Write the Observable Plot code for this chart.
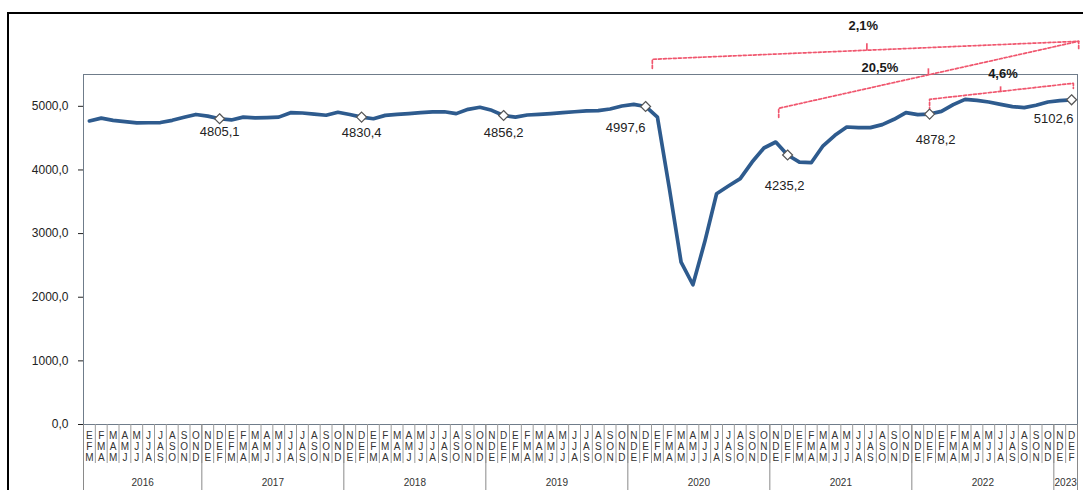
<!DOCTYPE html>
<html><head><meta charset="utf-8">
<script src="https://cdn.jsdelivr.net/npm/d3@7"></script>
<script src="https://cdn.jsdelivr.net/npm/@observablehq/plot@0.6"></script>
<style>
html,body{margin:0;padding:0;background:#fff;overflow:hidden;}
#wrap{position:relative;width:1083px;height:490px;}
#chart{position:absolute;left:0;top:0;}
#border{position:absolute;left:7px;top:12px;width:1090px;height:500px;border:2px solid #000;box-sizing:border-box;pointer-events:none;}
</style></head><body>
<div id="wrap"><div id="chart"></div><div id="border"></div></div>
<script>
// Rolling quarters (Spanish month initials), EFM 2016 ... DEF 2023
const quarters = [
  "EFM","FMA","MAM","AMJ","MJJ","JJA","JAS","ASO","SON","OND",
  "NDE","DEF","EFM","FMA","MAM","AMJ","MJJ","JJA","JAS","ASO","SON","OND",
  "NDE","DEF","EFM","FMA","MAM","AMJ","MJJ","JJA","JAS","ASO","SON","OND",
  "NDE","DEF","EFM","FMA","MAM","AMJ","MJJ","JJA","JAS","ASO","SON","OND",
  "NDE","DEF","EFM","FMA","MAM","AMJ","MJJ","JJA","JAS","ASO","SON","OND",
  "NDE","DEF","EFM","FMA","MAM","AMJ","MJJ","JJA","JAS","ASO","SON","OND",
  "NDE","DEF","EFM","FMA","MAM","AMJ","MJJ","JJA","JAS","ASO","SON","OND",
  "NDE","DEF"
];
const years = ["2016","2017","2018","2019","2020","2021","2022","2023"];
const values = [
  4770, 4815, 4780, 4760, 4740, 4742, 4745, 4780, 4828, 4872,
  4845, 4805.1, 4786, 4830, 4818, 4822, 4830, 4900, 4895, 4876, 4860, 4906,
  4872, 4830.4, 4805, 4858, 4874, 4885, 4900, 4914, 4915, 4885, 4953, 4985,
  4937, 4856.2, 4830, 4864, 4874, 4885, 4900, 4915, 4927, 4932, 4958, 5005,
  5031, 4997.6, 4830, 3720, 2552, 2196, 2870, 3627, 3747, 3863, 4124, 4345,
  4439, 4235.2, 4124, 4114, 4380, 4544, 4675, 4665, 4665, 4712, 4796, 4901,
  4869, 4878.2, 4921, 5026, 5110, 5094, 5068, 5031, 4995, 4979, 5016, 5068,
  5089, 5102.6
];
const yTicks = [0, 1000, 2000, 3000, 4000, 5000];
const markedIdx = [11, 23, 35, 47, 59, 71, 83];
const comparisons = [
  {label: "2,1%", from: 47, to: 83},
  {label: "20,5%", from: 59, to: 83},
  {label: "4,6%", from: 71, to: 83}
];

// ---- layout / styling (not data) ----
const labelOffsets = {11:[0,13], 23:[0,16], 35:[0,17], 47:[-20,21], 59:[-3,31], 71:[6,26], 83:[-18,19]};
const bracketLayout = {
  "2,1%":  {lx: 0.57, lb: 5597, lt: 5739, rx: 0.6, rt: 6022, rb: 5881, mx: 65.7, mb: 5881, mt: 5991, tx: 65.4, ty: 6258},
  "20,5%": {lx: -0.75, lb: 4827, lt: 4969, rx: 0.6, rt: 6022, rb: 6022, mx: 70.9, mb: 5495, mt: 5597, tx: 66.8, ty: 5597},
  "4,6%":  {lx: 0.0, lb: 4937, lt: 5110, rx: 0.15, rt: 5362, rb: 5283, mx: 77.0, mb: 5236, mt: 5314, tx: 77.2, ty: 5503}
};

const fmt = v => v.toFixed(1).replace(".", ",");
let yi = -1;
const data = quarters.map((q, i) => {
  if (i === 0 || q === "NDE") yi++;
  return {i, q, v: values[i], year: years[yi]};
});
const groups = years.map(y => {
  const idx = data.filter(d => d.year === y).map(d => d.i);
  return {year: y, start: d3.min(idx) - 0.5, end: d3.max(idx) + 0.5, center: (d3.min(idx) + d3.max(idx)) / 2};
});
const yearBounds = [...new Set(groups.flatMap(g => [g.start, g.end]))];
const monthBounds = d3.range(1, quarters.length).map(i => i - 0.5);
const marked = markedIdx.map(i => data[i]);

const red = "#f0566e";
const bracketPts = [], midTicks = [], bracketLabels = [];
comparisons.forEach(c => {
  const L = bracketLayout[c.label];
  bracketPts.push(
    {k: c.label, x: c.from + L.lx, y: L.lb},
    {k: c.label, x: c.from + L.lx, y: L.lt},
    {k: c.label, x: c.to + L.rx, y: L.rt},
    {k: c.label, x: c.to + L.rx, y: L.rb}
  );
  midTicks.push({x: L.mx, y1: L.mb, y2: L.mt});
  bracketLabels.push({x: L.tx, y: L.ty, text: c.label});
});

const chart = Plot.plot({
  width: 1083,
  height: 490,
  marginLeft: 83,
  marginRight: 6,
  marginTop: 74,
  marginBottom: 66,
  style: {fontFamily: "'Liberation Sans', Arial, sans-serif", fontSize: "12px", background: "transparent", overflow: "visible", color: "#222"},
  x: {domain: [-0.5, quarters.length - 0.5], axis: null},
  y: {domain: [0, 5500], ticks: yTicks, tickFormat: fmt, tickSize: 5, tickPadding: 10, label: null},
  marks: [
    Plot.frame({stroke: "#6f7c8a", strokeWidth: 1}),
    Plot.ruleX(monthBounds, {x: d => d, y1: 0, y2: 0, insetBottom: -39, stroke: "#9c9c9c"}),
    Plot.ruleX(yearBounds, {x: d => d, y1: 0, y2: 0, insetBottom: -66, stroke: "#8a8a8a"}),
    Plot.text(data, {x: "i", y: 0, text: d => d.q.split("").join("\n"), lineAnchor: "top", dy: 7, fontSize: 10, lineHeight: 1.1, fill: "#333"}),
    Plot.text(groups, {x: "center", y: 0, text: "year", dy: 58, fontSize: 10, fill: "#333"}),
    Plot.line(bracketPts, {x: "x", y: "y", z: "k", stroke: red, strokeWidth: 1.7, strokeDasharray: "3,2"}),
    Plot.link(midTicks, {x1: "x", x2: "x", y1: "y1", y2: "y2", stroke: red, strokeWidth: 1.7}),
    Plot.text(bracketLabels, {x: "x", y: "y", text: "text", fontSize: 13, fontWeight: "bold", fill: "#1a1a1a"}),
    Plot.line(data, {x: "i", y: "v", stroke: "#2e5b8e", strokeWidth: 3.7, strokeLinejoin: "round", strokeLinecap: "round"}),
    Plot.dot(marked, {x: "i", y: "v", symbol: "diamond2", r: 4.5, fill: "white", stroke: "#555", strokeWidth: 1.2}),
    Plot.text(marked, {x: d => d.i, y: "v", text: d => fmt(d.v), fontSize: 13, fill: "#222"})
  ]
});
document.getElementById("chart").appendChild(chart);

// apply per-label offsets (layout only)
const labelGroup = chart.querySelectorAll("g[aria-label='text']");
const valueLabels = labelGroup[labelGroup.length - 1];
valueLabels.querySelectorAll("text").forEach((t, k) => {
  const [dx, dy] = labelOffsets[markedIdx[k]];
  const tr = t.getAttribute("transform") || "";
  t.setAttribute("transform", tr + ` translate(${dx},${dy})`);
});
</script>
</body></html>
